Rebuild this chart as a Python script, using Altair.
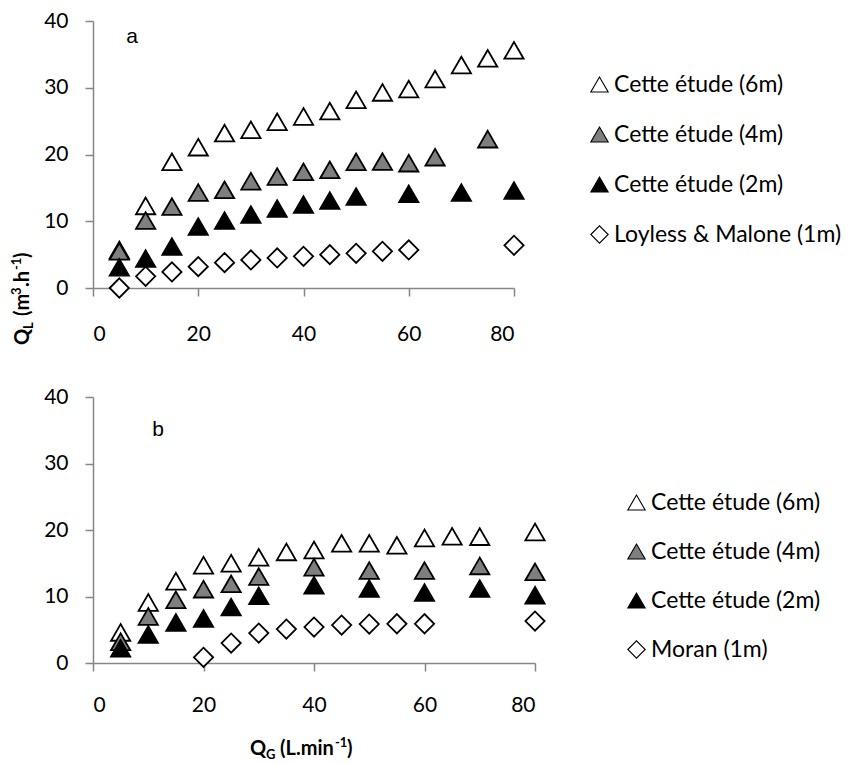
import altair as alt
import pandas as pd

# Gas flow rate (L/min) shared by every series
qg = [5, 10, 15, 20, 25, 30, 35, 40, 45, 50, 55, 60, 65, 70, 75, 80]

# Panel a: liquid flow rate (m3/h)
a_6m = [5.7, 12.3, 18.9, 21.1, 23.2, 23.7, 24.9, 25.7, 26.5, 28.2, 29.3, 29.8, 31.3, 33.4, 34.4, 35.6]
a_4m = [5.5, 10.1, 12.2, 14.3, 14.7, 16.0, 16.7, 17.4, 17.7, 18.9, 18.95, 18.7, 19.6, None, 22.3, None]
a_2m = [3.1, 4.4, 6.2, 9.2, 10.1, 11.0, 11.9, 12.5, 13.1, 13.7, None, 14.1, None, 14.3, None, 14.6]
a_lm = [0.0, 1.75, 2.4, 3.2, 3.8, 4.2, 4.5, 4.75, 5.0, 5.2, 5.5, 5.7, None, None, None, 6.4]

# Panel b: liquid flow rate (m3/h)
b_6m = [4.6, 9.1, 12.3, 14.7, 15.0, 15.9, 16.7, 17.0, 18.0, 18.0, 17.7, 18.8, 19.05, 19.0, None, 19.7]
b_4m = [3.2, 7.0, 9.5, 11.1, 11.9, 13.0, None, 14.4, None, 13.9, None, 13.9, None, 14.6, None, 13.7]
b_2m = [2.2, 4.3, 6.1, 6.7, 8.4, 10.1, None, 11.7, None, 11.2, None, 10.6, None, 11.2, None, 10.2]
b_moran = [None, None, None, 0.85, 3.0, 4.5, 5.1, 5.4, 5.7, 5.85, 5.9, 5.9, None, None, None, 6.3]

names_a = ["Cette étude (6m)", "Cette étude (4m)", "Cette étude (2m)", "Loyless & Malone (1m)"]
names_b = ["Cette étude (6m)", "Cette étude (4m)", "Cette étude (2m)", "Moran (1m)"]
shapes = ["triangle-up", "triangle-up", "triangle-up", "diamond"]
fills = ["white", "#7f7f7f", "black", "white"]
strokes = ["black", "black", "black", "black"]

FONT = "Lato"


def long_table(names, series):
    rows = []
    for k, (name, vals) in enumerate(zip(names, series)):
        for x, v in zip(qg, vals):
            if v is not None:
                rows.append({"qg": x, "ql": v, "series": name, "k": k})
    return pd.DataFrame(rows)


def text_piece(s, x, y, size, bold=True, angle=0, dx=0, dy=0, font=FONT):
    return alt.Chart(alt.Data(values=[{}])).mark_text(
        font=font, fontSize=size, fontWeight="bold" if bold else "normal",
        angle=angle, dx=dx, dy=dy, align="left", baseline="alphabetic", color="black",
    ).encode(x=alt.value(x), y=alt.value(y), text=alt.value(s))


def scatter(df, names, width, height, legend_x, legend_y, row_pad, x_label_pad):
    legend = alt.Legend(
        title=None, orient="none", legendX=legend_x, legendY=legend_y,
        labelFont=FONT, labelFontSize=23, labelColor="black", labelOffset=3,
        labelLimit=400, symbolSize=300, symbolStrokeWidth=1.1,
        rowPadding=row_pad, padding=0,
    )
    return alt.Chart(df).mark_point(
        filled=True, strokeWidth=1.8, size=370, opacity=1,
    ).encode(
        x=alt.X("qg:Q", scale=alt.Scale(domain=[0, 80], nice=False),
                axis=alt.Axis(values=[0, 20, 40, 60, 80], title=None, labelPadding=x_label_pad)),
        y=alt.Y("ql:Q", scale=alt.Scale(domain=[0, 40], nice=False),
                axis=alt.Axis(values=[0, 10, 20, 30, 40], title=None, labelPadding=17)),
        shape=alt.Shape("series:N", scale=alt.Scale(domain=names, range=shapes), legend=legend),
        fill=alt.Fill("series:N", scale=alt.Scale(domain=names, range=fills), legend=legend),
        stroke=alt.Stroke("series:N", scale=alt.Scale(domain=names, range=strokes), legend=legend),
        order=alt.Order("k:Q"),
    ).properties(width=width, height=height)


df_a = long_table(names_a, [a_6m, a_4m, a_2m, a_lm])
df_b = long_table(names_b, [b_6m, b_4m, b_2m, b_moran])

pts_a = scatter(df_a, names_a, 421, 267, 495, 52, 26, 27)
pts_b = scatter(df_b, names_b, 442, 266, 532, 94, 25, 23)

# Panel letters
tag_a = alt.Chart(alt.Data(values=[{}])).mark_text(
    font="Liberation Sans", fontSize=21, color="black", align="center", baseline="middle"
).encode(x=alt.value(39), y=alt.value(16), text=alt.value("a"))
tag_b = alt.Chart(alt.Data(values=[{}])).mark_text(
    font="Liberation Sans", fontSize=21, color="black", align="center", baseline="middle"
).encode(x=alt.value(65), y=alt.value(33), text=alt.value("b"))

# Y axis title Q_L (m3.h-1), rotated, drawn in pieces for sub- and superscripts
yx, yy = -64, 324
y_title = [
    text_piece("Q", yx, yy, 20, angle=270),
    text_piece("L", yx, yy, 13, angle=270, dx=16, dy=4),
    text_piece("(m", yx, yy, 20, angle=270, dx=29),
    text_piece("3", yx, yy, 13, angle=270, dx=50, dy=-8),
    text_piece(".h", yx, yy, 20, angle=270, dx=58),
    text_piece("-1", yx, yy, 13, angle=270, dx=75, dy=-8),
    text_piece(")", yx, yy, 20, angle=270, dx=87),
]

# X axis title Q_G (L.min-1)
xx, xy = 157, 358
x_title = [
    text_piece("Q", xx, xy, 20),
    text_piece("G", xx, xy, 13, dx=16, dy=4),
    text_piece("(L.min", xx, xy, 20, dx=30),
    text_piece("-1", xx, xy, 13, dx=85, dy=-8),
    text_piece(")", xx, xy, 20, dx=97),
]

panel_a = alt.layer(pts_a, tag_a, *y_title).resolve_scale(
    shape="independent", fill="independent", stroke="independent")
panel_b = alt.layer(pts_b, tag_b, *x_title).resolve_scale(
    shape="independent", fill="independent", stroke="independent")

chart = alt.vconcat(panel_a, panel_b, spacing=109, bounds="flush").resolve_scale(
    x="independent", y="independent", shape="independent", fill="independent", stroke="independent"
).resolve_legend(shape="independent", fill="independent", stroke="independent").properties(
    padding={"left": 11, "top": 10, "right": 3, "bottom": 5},
    background="white",
).configure_view(strokeWidth=0).configure_axis(
    domainColor="#868686", domainWidth=1.5, tickColor="#868686", tickWidth=1.5, tickSize=8,
    labelFont=FONT, labelFontSize=21, labelColor="black", grid=False,
)

chart.save("out.html", embed_options={"renderer": "svg", "actions": False})
